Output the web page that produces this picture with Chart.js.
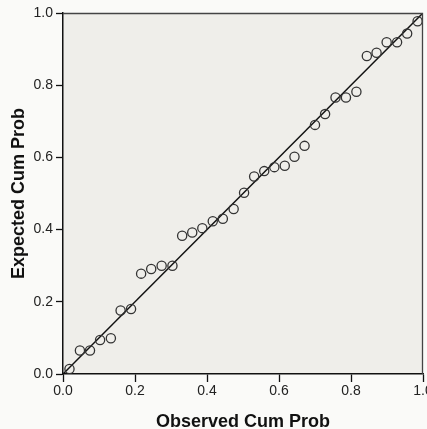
<!DOCTYPE html>
<html>
<head>
<meta charset="utf-8">
<script src="https://cdn.jsdelivr.net/npm/chart.js@4"></script>
<style>
html,body{margin:0;padding:0;background:#fafaf8;}
#wrap{width:427px;height:429px;}
</style>
</head>
<body>
<div id="wrap"><canvas id="c" width="427" height="429"></canvas></div>
<script>
const observedCumProb = [0.018,0.047,0.075,0.103,0.133,0.160,0.189,0.217,0.245,0.274,0.304,0.331,0.359,0.387,0.416,0.444,0.474,0.503,0.531,0.559,0.587,0.616,0.643,0.671,0.700,0.728,0.757,0.786,0.815,0.844,0.871,0.899,0.928,0.956,0.985];
const expectedCumProb = [0.014,0.065,0.065,0.094,0.099,0.176,0.180,0.278,0.291,0.300,0.300,0.383,0.392,0.404,0.423,0.430,0.457,0.502,0.547,0.562,0.573,0.577,0.602,0.632,0.690,0.720,0.766,0.766,0.782,0.881,0.890,0.919,0.919,0.943,0.977];
const referenceLineX = [0, 1];
const referenceLineY = [0, 1];
const tickValues = [0, 0.2, 0.4, 0.6, 0.8, 1.0];
const xTitle = 'Observed Cum Prob';
const yTitle = 'Expected Cum Prob';

const points = observedCumProb.map((x, i) => ({x: x, y: expectedCumProb[i]}));
const lineData = referenceLineX.map((x, i) => ({x: x, y: referenceLineY[i]}));

const bgPlugin = {
  id: 'bgPlugin',
  beforeDraw(chart) {
    const ctx = chart.ctx;
    const a = chart.chartArea;
    ctx.save();
    ctx.fillStyle = '#fafaf8';
    ctx.fillRect(0, 0, chart.width, chart.height);
    ctx.fillStyle = '#efeeea';
    ctx.fillRect(a.left, a.top, a.right - a.left, a.bottom - a.top);
    ctx.restore();
  },
  afterDraw(chart) {
    const ctx = chart.ctx;
    const a = chart.chartArea;
    ctx.save();
    ctx.strokeStyle = '#444';
    ctx.lineWidth = 1.3;
    ctx.beginPath();
    ctx.moveTo(a.left, a.top + 0.5);
    ctx.lineTo(a.right - 0.5, a.top + 0.5);
    ctx.lineTo(a.right - 0.5, a.bottom);
    ctx.stroke();
    ctx.restore();
  }
};

const tickFont = {family: '"Liberation Sans", Arial, sans-serif', size: 14};
const titleFont = {family: '"Liberation Sans", Arial, sans-serif', size: 18, weight: 'bold', lineHeight: 1};

new Chart(document.getElementById('c'), {
  type: 'scatter',
  data: {
    datasets: [
      {
        type: 'line',
        data: lineData,
        borderColor: '#111',
        borderWidth: 1.5,
        pointRadius: 0,
        fill: false,
        order: 2
      },
      {
        data: points,
        pointStyle: 'circle',
        pointRadius: 4.6,
        pointBorderWidth: 1.3,
        borderColor: '#333',
        backgroundColor: 'rgba(0,0,0,0)',
        pointBackgroundColor: 'rgba(0,0,0,0)',
        order: 1
      }
    ]
  },
  options: {
    responsive: false,
    animation: false,
    devicePixelRatio: 1,
    layout: {autoPadding: false, padding: {top: 13, right: 4, left: 0, bottom: 0}},
    plugins: {legend: {display: false}, tooltip: {enabled: false}},
    scales: {
      x: {
        type: 'linear',
        min: 0, max: 1,
        afterBuildTicks(scale) { scale.ticks = tickValues.map(v => ({value: v})); },
        afterFit(scale) { scale.height = 55; scale.paddingLeft = 0; scale.paddingRight = 0; },
        ticks: {
          font: tickFont, color: '#222', padding: 1, maxRotation: 0,
          callback: v => Number(v).toFixed(1)
        },
        grid: {drawOnChartArea: false, drawTicks: true, tickLength: 8, tickColor: '#111', tickWidth: 1.3},
        border: {display: true, color: '#111', width: 1.5},
        title: {display: true, text: xTitle, font: titleFont, color: '#111', padding: {top: 0, bottom: -2}}
      },
      y: {
        type: 'linear',
        min: 0, max: 1,
        afterBuildTicks(scale) { scale.ticks = tickValues.map(v => ({value: v})); },
        afterFit(scale) { scale.width = 63; scale.paddingTop = 0; scale.paddingBottom = 0; },
        ticks: {
          font: tickFont, color: '#222', padding: 3,
          callback: v => Number(v).toFixed(1)
        },
        grid: {drawOnChartArea: false, drawTicks: true, tickLength: 7, tickColor: '#111', tickWidth: 1.3},
        border: {display: true, color: '#111', width: 1.5},
        title: {display: true, text: yTitle, font: titleFont, color: '#111', padding: {top: 10, bottom: 0}}
      }
    }
  },
  plugins: [bgPlugin]
});
</script>
</body>
</html>
